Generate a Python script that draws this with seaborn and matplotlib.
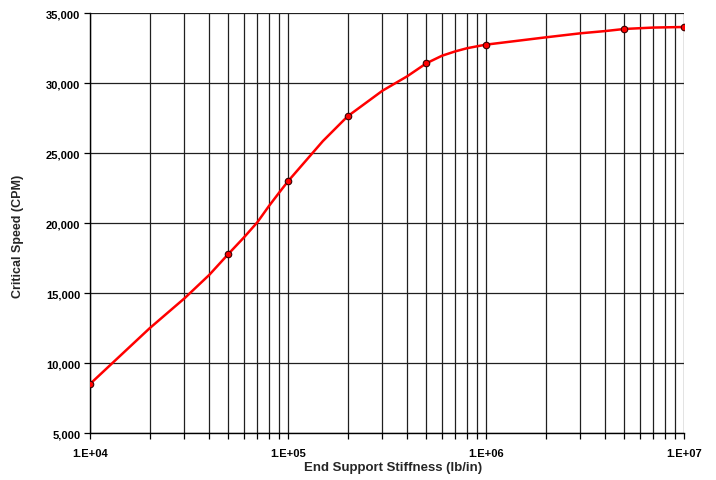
import matplotlib
matplotlib.use("Agg")
import matplotlib.pyplot as plt
import matplotlib.ticker as mticker
import seaborn as sns
import pandas as pd
import numpy as np

# Curve values
stiffness = [1e4, 2e4, 3e4, 4e4, 5e4, 6e4, 7e4, 8e4, 9e4, 1e5, 1.5e5, 2e5,
             3e5, 4e5, 5e5, 6e5, 7e5, 8e5, 9e5, 1e6, 2e6, 3e6, 4e6, 5e6, 7e6, 1e7]
speed = [8500, 12480, 14620, 16290, 17790, 18980, 20050, 21200, 22150, 22980,
         25850, 27620, 29450, 30480, 31410, 31950, 32260, 32480, 32620, 32740,
         33260, 33550, 33710, 33860, 33960, 34000]

# Marked data points
marker_stiffness = [1e4, 5e4, 1e5, 2e5, 5e5, 1e6, 5e6, 1e7]
marker_speed = [8500, 17790, 22980, 27620, 31410, 32740, 33860, 34000]

x_label = "End Support Stiffness (lb/in)"
y_label = "Critical Speed (CPM)"
y_ticks = [5000, 10000, 15000, 20000, 25000, 30000, 35000]
x_ticks = [1e4, 1e5, 1e6, 1e7]
x_tick_labels = ["1.E+04", "1.E+05", "1.E+06", "1.E+07"]

sns.set_theme(style="white")
plt.rcParams['font.family'] = ['Liberation Sans', 'DejaVu Sans']

fig = plt.figure(figsize=(7.16, 4.81), dpi=100)
ax = fig.add_axes([90/716, 1-434/481, (684-90)/716, (434-14)/481])

curve = pd.DataFrame({"x": stiffness, "y": speed})
marks = pd.DataFrame({"x": marker_stiffness, "y": marker_speed})

ax.set_xscale("log")
ax.set_xlim(1e4, 1e7)
ax.set_ylim(5000, 35000)

sns.lineplot(data=curve, x="x", y="y", ax=ax, color="#ff0000", linewidth=1.8,
             sort=True, zorder=3, legend=False)
sns.scatterplot(data=marks, x="x", y="y", ax=ax, color="#ff0000", s=22,
                edgecolor="#3a0000", linewidth=0.8, zorder=4, legend=False)

ax.set_yticks(y_ticks)
ax.yaxis.set_major_formatter(mticker.FuncFormatter(lambda v, p: f"{int(v):,}"))
ax.set_xticks(x_ticks)
ax.set_xticklabels(x_tick_labels)
ax.xaxis.set_minor_locator(mticker.LogLocator(base=10, subs=np.arange(2, 10)))
ax.xaxis.set_minor_formatter(mticker.NullFormatter())

ax.grid(True, which="both", axis="x", color="#202020", linewidth=0.9)
ax.grid(True, which="major", axis="y", color="#202020", linewidth=0.9)
ax.set_axisbelow(True)

for s in ["top", "right"]:
    ax.spines[s].set_visible(False)
for s in ["left", "bottom"]:
    ax.spines[s].set_color("#000000")
    ax.spines[s].set_linewidth(1.0)

ax.tick_params(axis="both", which="both", direction="out", colors="#000000",
               length=4, width=0.9, bottom=True, left=True)
ax.tick_params(axis="x", which="major", pad=7)
ax.tick_params(axis="y", which="major", pad=3)
for lab in ax.get_xticklabels():
    lab.set_fontsize(8)
    lab.set_fontweight("bold")
for lab in ax.get_yticklabels():
    lab.set_fontsize(8)
    lab.set_fontweight("bold")

ax.set_xlabel(x_label, fontsize=9.5, fontweight="bold")
ax.xaxis.set_label_coords((393-90)/594, -(462-434)/420)
ax.set_ylabel(y_label, fontsize=9, fontweight="bold")
ax.yaxis.set_label_coords((24-90)/594, (434-236)/420)

fig.savefig("out.png", dpi=100, facecolor="white")
